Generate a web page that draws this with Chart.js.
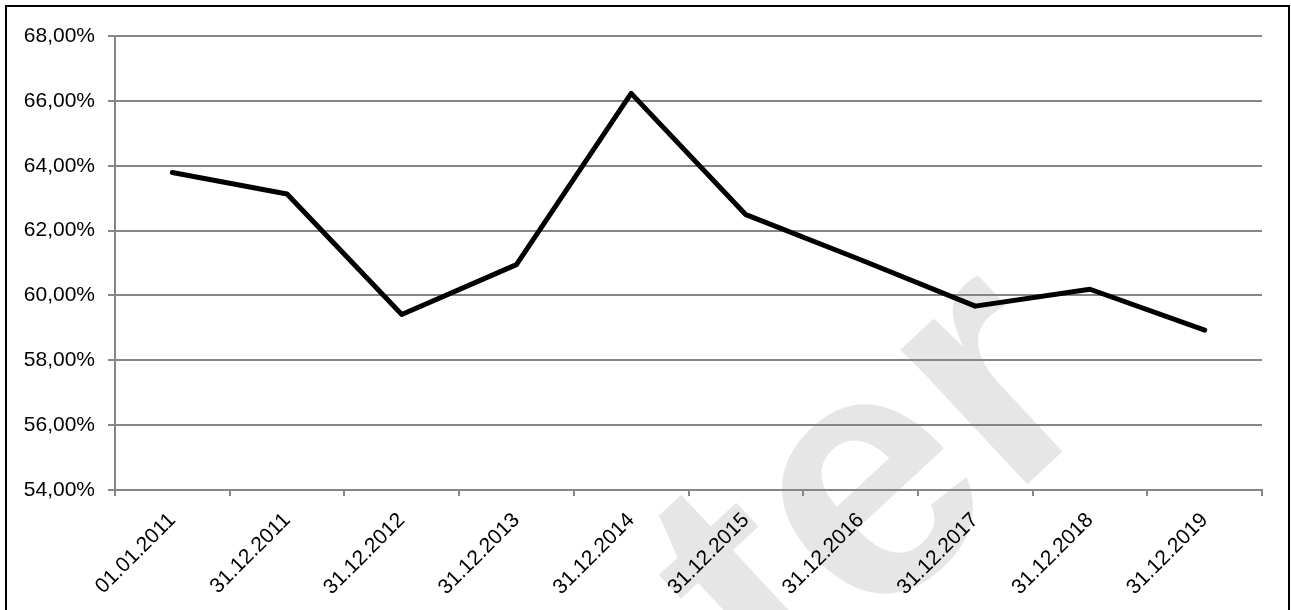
<!DOCTYPE html>
<html>
<head>
<meta charset="utf-8">
<script src="https://cdn.jsdelivr.net/npm/chart.js@4/dist/chart.umd.min.js"></script>
<style>
  html, body { margin: 0; padding: 0; background: #fff; }
  #wrap { position: relative; width: 1291px; height: 610px; }
</style>
</head>
<body>
<div id="wrap"><canvas id="lineChart" width="1291" height="610"></canvas></div>
<script>
// chart data
const dates = ['01.01.2011', '31.12.2011', '31.12.2012', '31.12.2013', '31.12.2014',
               '31.12.2015', '31.12.2016', '31.12.2017', '31.12.2018', '31.12.2019'];
const shareValues = [63.79, 63.13, 59.41, 60.95, 66.23, 62.49, 61.1, 59.67, 60.19, 58.93];
const yMin = 54;
const yMax = 68;
const yStep = 2;
const watermarkText = 'Muster';

const fontFamily = '"Liberation Sans", Arial, sans-serif';
const gridGray = '#868686';

// white page, big grey watermark underneath everything, frame on top
const pagePlugin = {
    id: 'page',
    beforeDraw(chart) {
        const ctx = chart.ctx;
        ctx.save();
        ctx.fillStyle = '#fff';
        ctx.fillRect(0, 0, chart.width, chart.height);
        ctx.translate(1109, 408);
        ctx.rotate(-43 * Math.PI / 180);
        ctx.font = 'bold 350px ' + fontFamily;
        ctx.fillStyle = '#e6e6e6';
        ctx.textAlign = 'right';
        ctx.textBaseline = 'alphabetic';
        ctx.fillText(watermarkText, 0, 0);
        ctx.restore();
    },
    afterDraw(chart) {
        const ctx = chart.ctx;
        ctx.save();
        ctx.strokeStyle = '#000';
        ctx.lineWidth = 2;
        ctx.strokeRect(6, 6, 1283, 700);
        ctx.restore();
    }
};

const ctx = document.getElementById('lineChart').getContext('2d');
const lineChart = new Chart(ctx, {
    type: 'line',
    data: {
        labels: dates,
        datasets: [{
            data: shareValues,
            borderColor: '#000',
            borderWidth: 5,
            borderCapStyle: 'round',
            borderJoinStyle: 'round',
            pointRadius: 0,
            tension: 0,
            fill: false
        }]
    },
    options: {
        responsive: false,
        animation: false,
        layout: {
            padding: { top: 36, right: 29, left: 0, bottom: 0 }
        },
        plugins: {
            legend: { display: false },
            tooltip: { enabled: false }
        },
        scales: {
            x: {
                offset: true,
                grid: {
                    offset: true,
                    drawOnChartArea: false,
                    tickLength: 6,
                    color: gridGray,
                    lineWidth: 2
                },
                border: { color: gridGray, width: 2 },
                ticks: {
                    minRotation: 45,
                    maxRotation: 45,
                    padding: 12,
                    color: '#000',
                    font: { family: fontFamily, size: 21 }
                },
                afterFit(scale) { scale.height = 120; }
            },
            y: {
                min: yMin,
                max: yMax,
                grid: {
                    tickLength: 7,
                    color: gridGray,
                    lineWidth: 2
                },
                border: { color: gridGray, width: 2 },
                ticks: {
                    stepSize: yStep,
                    padding: 13,
                    color: '#000',
                    font: { family: fontFamily, size: 21 },
                    callback: function(value) {
                        return value.toFixed(2).replace('.', ',') + '%';
                    }
                },
                afterFit(scale) { scale.width = 115; }
            }
        }
    },
    plugins: [pagePlugin]
});
</script>
</body>
</html>
